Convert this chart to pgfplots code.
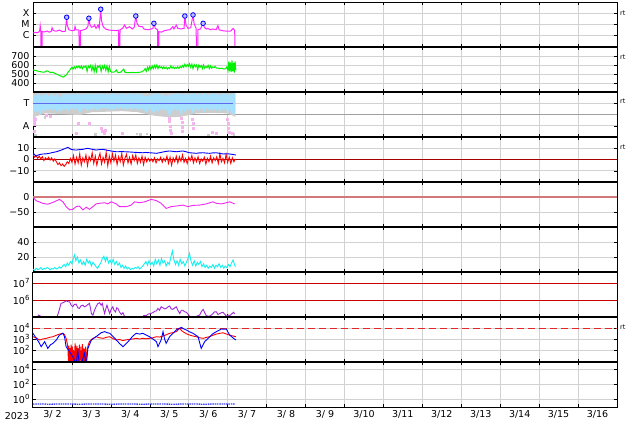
\documentclass[border=0pt]{standalone}
\usepackage{pgfplots}
\pgfplotsset{compat=1.18}
\usepackage{fontspec}
\setmainfont{DejaVu Sans}

\definecolor{xmag}{RGB}{255,40,255}
\definecolor{swgreen}{RGB}{0,240,0}
\definecolor{imfband}{RGB}{165,225,255}
\definecolor{imfgray}{RGB}{205,205,205}
\definecolor{tline}{RGB}{95,105,240}
\definecolor{apink}{RGB}{245,180,240}
\definecolor{zred}{RGB}{165,0,0}
\definecolor{dstmag}{RGB}{240,40,240}
\definecolor{dstzero}{RGB}{210,120,120}
\definecolor{kcyan}{RGB}{20,240,240}
\definecolor{epurple}{RGB}{160,40,215}
\definecolor{lred}{RGB}{200,0,0}
\definecolor{dred}{RGB}{225,40,40}

\newcommand\ex[1]{10\raisebox{0.85ex}{\fontsize{7}{7}\selectfont #1}}

\pgfplotsset{
  panel/.style={
    at={(33pt,-#1pt)}, anchor=north west,
    width=584pt, height=45pt, scale only axis,
    xmin=0, xmax=15,
    xtick={0.5,1.5,...,14.5}, xticklabels={},
    minor xtick={1,2,...,14},
    xminorgrids=true, xmajorgrids=false, ymajorgrids=true,
    major x tick style={draw=none},
    grid style={draw=gray!35, line width=0.6pt},
    minor grid style={draw=gray!35, line width=0.6pt},
    tick align=inside, major tick length=3pt, minor tick length=3pt,
    tick style={black, line width=0.5pt},
    yminorticks=false,
    axis line style={black, line width=1pt},
    tick label style={font=\fontsize{9.5}{11}\selectfont},
  }
}

\begin{document}
\begin{tikzpicture}
\useasboundingbox (0,0) rectangle (634pt,-424pt);

% X-ray flux
\begin{axis}[panel=2, ymode=log, ymin=8e-8, ymax=1e-3,
  ytick={1e-6,1e-5,1e-4}, yticklabels={C,M,X}]
\addplot[xmag, line width=1pt] coordinates {
(0.00,1.5e-6) (0.06,1.7e-6) (0.12,1.6e-6) (0.17,2.2e-6) (0.185,7e-6) (0.20,2.4e-6)
(0.205,1e-9) (0.23,1e-9) (0.235,2e-6) (0.30,1.9e-6) (0.36,2.3e-6) (0.42,1.8e-6)
(0.47,2.2e-6) (0.49,4.5e-6) (0.52,2.5e-6) (0.60,2.2e-6) (0.68,2.8e-6) (0.75,2.0e-6)
(0.83,2.2e-6) (0.865,4.1e-5) (0.88,8e-6) (0.92,3e-6) (1.00,2.4e-6) (1.06,2.6e-6)
(1.08,6e-6) (1.10,3e-6) (1.18,2.8e-6) (1.19,1e-9) (1.215,1e-9) (1.22,2.5e-6)
(1.28,2.8e-6) (1.36,3.5e-6) (1.41,6e-6) (1.435,3.3e-5) (1.46,9e-6) (1.50,5e-6)
(1.56,6e-6) (1.58,8e-6) (1.62,4e-6) (1.67,8e-6) (1.70,4e-6) (1.74,2.2e-4)
(1.76,2e-5) (1.80,6e-6) (1.86,3.5e-6) (1.95,2.8e-6) (2.05,2.6e-6) (2.14,2.5e-6)
(2.20,2.7e-6) (2.205,1e-9) (2.23,1e-9) (2.235,3e-6) (2.30,4e-6) (2.35,8e-6)
(2.40,4e-6) (2.48,5.7e-6) (2.55,3.5e-6) (2.60,5e-6) (2.64,5.3e-5) (2.67,1.2e-5)
(2.72,6e-6) (2.81,5.7e-6) (2.85,3.5e-6) (2.92,3e-6) (3.00,3.2e-6) (3.08,4e-6)
(3.105,1.15e-5) (3.14,4e-6) (3.20,3e-6) (3.205,1e-9) (3.23,1e-9) (3.235,2e-6)
(3.30,1.8e-6) (3.38,2.5e-6) (3.45,2.8e-6) (3.52,3e-6) (3.59,5.7e-6) (3.62,3.5e-6)
(3.68,8e-6) (3.72,4e-6) (3.80,3.5e-6) (3.88,4e-6) (3.90,5.3e-5) (3.93,8e-6)
(3.98,4e-6) (4.05,4.5e-6) (4.11,6.6e-5) (4.14,1e-5) (4.19,4e-6) (4.205,1e-9)
(4.23,1e-9) (4.235,3e-6) (4.30,3.5e-6) (4.37,1.15e-5) (4.40,5e-6) (4.45,3.5e-6)
(4.49,4e-6) (4.55,3e-6) (4.62,3.5e-6) (4.70,3e-6) (4.75,7e-6) (4.78,3e-6)
(4.88,2.4e-6) (4.98,2.2e-6) (5.08,2.3e-6) (5.14,4e-6) (5.18,2.5e-6) (5.20,1e-9)
};
\addplot[only marks, mark=*, mark size=2.3pt,
  mark options={draw=blue, fill=blue!25, line width=0.8pt}] coordinates {
(0.865,4.1e-5) (1.435,3.3e-5) (1.74,2.2e-4) (2.64,5.3e-5)
(3.105,1.15e-5) (3.90,5.3e-5) (4.11,6.6e-5) (4.37,1.15e-5)
};
\end{axis}

% solar wind speed
\begin{axis}[panel=47, ymin=300, ymax=800,
  ytick={400,500,600,700}, yticklabels={400,500,600,700}]
\addplot[swgreen, line width=1pt] coordinates {
(0.00,545) (0.05,540) (0.10,535) (0.15,530) (0.20,525) (0.25,520) (0.30,522)
(0.35,535) (0.40,528) (0.45,515) (0.50,520) (0.55,510) (0.60,500) (0.65,490)
(0.70,480) (0.75,470) (0.78,465) (0.82,480) (0.86,490) (0.90,520) (0.94,540)
(0.97,560) (1.00,575) (1.03,555) (1.06,580) (1.09,560) (1.12,585) (1.15,570)
(1.18,590) (1.21,565) (1.24,590) (1.27,560) (1.30,585) (1.33,575) (1.36,590)
(1.39,530) (1.42,590) (1.45,570) (1.48,595) (1.51,540) (1.54,590) (1.57,525)
(1.60,595) (1.63,530) (1.66,590) (1.69,575) (1.72,595) (1.75,530) (1.78,590)
(1.81,560) (1.84,595) (1.87,540) (1.90,590) (1.93,525) (1.96,585) (1.99,530)
(2.02,520) (2.06,520) (2.10,525) (2.14,545) (2.17,520) (2.20,515) (2.25,520)
(2.30,540) (2.33,555) (2.36,520) (2.40,515) (2.45,515) (2.50,515) (2.55,518)
(2.60,515) (2.65,516) (2.70,518) (2.75,520) (2.80,525) (2.85,540) (2.88,560)
(2.91,530) (2.94,575) (2.97,545) (3.00,585) (3.03,550) (3.06,590) (3.09,560)
(3.12,595) (3.15,565) (3.18,600) (3.21,560) (3.24,590) (3.27,570) (3.30,580)
(3.33,560) (3.36,580) (3.39,560) (3.42,575) (3.45,555) (3.48,570) (3.51,560)
(3.54,590) (3.57,565) (3.60,580) (3.63,560) (3.66,575) (3.69,565) (3.72,580)
(3.75,560) (3.78,585) (3.81,570) (3.84,595) (3.87,575) (3.90,610) (3.93,580)
(3.96,605) (3.99,585) (4.02,615) (4.05,575) (4.08,610) (4.11,560) (4.14,605)
(4.17,580) (4.20,600) (4.23,550) (4.26,600) (4.29,575) (4.32,595) (4.35,560)
(4.38,600) (4.41,565) (4.44,585) (4.47,570) (4.50,595) (4.53,560) (4.56,590)
(4.59,565) (4.62,580) (4.65,570) (4.68,585) (4.71,565) (4.75,565) (4.80,560)
(4.85,565) (4.90,555) (4.95,560) (4.98,580) (5.01,540) (5.03,640) (5.05,530)
(5.07,630) (5.09,520) (5.11,650) (5.13,530) (5.15,620) (5.17,515) (5.19,640)
(5.21,540)
};
\end{axis}

% IMF sector toward / away
\begin{axis}[panel=92, ymin=0, ymax=4, ytick={1,3}, yticklabels={A,T}]
\addplot[gray!75, line width=0.8pt] coordinates {(0,2) (15,2)};
\addplot[fill=imfgray, draw=none] coordinates {
(0.0,3.9) (0.5,3.9) (1.0,3.95) (1.5,3.95) (2.0,3.9) (2.5,3.95) (3.0,3.9)
(3.5,3.9) (4.0,3.9) (4.5,3.95) (5.0,3.9) (5.2,3.95)
(5.2,1.8) (5.0,2.1) (4.6,2.15) (4.2,2.1) (3.8,1.8) (3.5,1.75) (3.1,1.9)
(2.7,2.2) (2.3,2.3) (1.9,2.25) (1.5,2.2) (1.2,1.95) (0.7,2.05) (0.3,2.1) (0.0,1.75)
} -- cycle;
\addplot[fill=imfband, draw=none] coordinates {
(0.00,3.8) (0.05,3.6) (0.10,3.75) (0.15,3.85) (0.20,3.65) (0.25,3.8) (0.30,3.7)
(0.35,3.85) (0.40,3.6) (0.45,3.75) (0.50,3.8) (0.55,3.65) (0.60,3.85) (0.65,3.7)
(0.70,3.5) (0.75,3.75) (0.80,3.85) (0.85,3.7) (0.90,3.8) (0.95,3.9) (1.00,3.75)
(1.05,3.85) (1.10,3.7) (1.15,3.9) (1.20,3.8) (1.25,3.75) (1.30,3.85) (1.35,3.7)
(1.40,3.9) (1.45,3.8) (1.50,3.85) (1.55,3.7) (1.60,3.9) (1.65,3.75) (1.70,3.85)
(1.75,3.8) (1.80,3.9) (1.85,3.7) (1.90,3.85) (1.95,3.8) (2.00,3.75) (2.05,3.9)
(2.10,3.8) (2.15,3.85) (2.20,3.7) (2.25,3.9) (2.30,3.8) (2.35,3.85) (2.40,3.75)
(2.45,3.9) (2.50,3.8) (2.55,3.85) (2.60,3.7) (2.65,3.9) (2.70,3.8) (2.75,3.75)
(2.80,3.85) (2.85,3.6) (2.90,3.75) (2.95,3.55) (3.00,3.8) (3.05,3.7) (3.10,3.85)
(3.15,3.75) (3.20,3.9) (3.25,3.8) (3.30,3.7) (3.35,3.85) (3.40,3.5) (3.45,3.75)
(3.50,3.8) (3.55,3.7) (3.60,3.85) (3.65,3.75) (3.70,3.9) (3.75,3.8) (3.80,3.85)
(3.85,3.7) (3.90,3.9) (3.95,3.8) (4.00,3.75) (4.05,3.85) (4.10,3.8) (4.15,3.9)
(4.20,3.7) (4.25,3.85) (4.30,3.8) (4.35,3.75) (4.40,3.9) (4.45,3.8) (4.50,3.7)
(4.55,3.85) (4.60,3.8) (4.65,3.9) (4.70,3.75) (4.75,3.85) (4.80,3.7) (4.85,3.8)
(4.90,3.9) (4.95,3.75) (5.00,3.85) (5.05,3.7) (5.10,3.8) (5.15,3.9) (5.20,3.8)
(5.20,2.3) (5.15,1.9) (5.10,2.2) (5.05,2.5) (5.00,2.0) (4.95,2.6) (4.90,2.4)
(4.85,2.55) (4.80,2.2) (4.75,2.5) (4.70,2.35) (4.65,2.6) (4.60,2.3) (4.55,2.5)
(4.50,2.4) (4.45,2.6) (4.40,2.2) (4.35,2.5) (4.30,2.55) (4.25,2.3) (4.20,2.5)
(4.15,2.4) (4.10,2.1) (4.05,2.55) (4.00,2.4) (3.95,2.5) (3.90,2.2) (3.85,2.45)
(3.80,1.9) (3.75,2.5) (3.70,2.3) (3.65,2.55) (3.60,2.4) (3.55,2.2) (3.50,1.8)
(3.45,2.4) (3.40,2.5) (3.35,2.3) (3.30,2.55) (3.25,2.4) (3.20,2.2) (3.15,2.5)
(3.10,2.0) (3.05,2.4) (3.00,2.55) (2.95,2.3) (2.90,2.1) (2.85,2.5) (2.80,2.4)
(2.75,2.6) (2.70,2.35) (2.65,2.55) (2.60,2.6) (2.55,2.4) (2.50,2.5) (2.45,2.6)
(2.40,2.45) (2.35,2.6) (2.30,2.5) (2.25,2.65) (2.20,2.45) (2.15,2.6) (2.10,2.5)
(2.05,2.4) (2.00,2.55) (1.95,2.35) (1.90,2.6) (1.85,2.5) (1.80,2.65) (1.75,2.45)
(1.70,2.55) (1.65,2.3) (1.60,2.6) (1.55,2.5) (1.50,2.4) (1.45,2.55) (1.40,2.3)
(1.35,2.5) (1.30,2.6) (1.25,2.4) (1.20,2.1) (1.15,2.45) (1.10,2.55) (1.05,2.4)
(1.00,2.6) (0.95,2.45) (0.90,2.3) (0.85,2.55) (0.80,2.4) (0.75,2.5) (0.70,2.2)
(0.65,2.45) (0.60,2.3) (0.55,2.5) (0.50,2.35) (0.45,2.55) (0.40,2.4) (0.35,2.5)
(0.30,2.3) (0.25,2.45) (0.20,2.0) (0.15,2.35) (0.10,2.2) (0.05,2.4) (0.00,1.9)
} -- cycle;
\addplot[only marks, mark=square*, mark size=1pt, color=apink] coordinates {
(0.02,1.7) (0.02,1.4) (0.03,1.1) (0.04,0.5) (0.06,1.6) (0.35,1.9) (0.45,1.85)
(1.12,0.3) (1.15,1.25) (1.45,1.25) (1.75,0.8) (1.78,0.5) (1.82,0.35) (1.86,0.6)
(2.30,0.35) (3.50,1.7) (3.51,1.4) (3.52,1.0) (3.53,0.6) (3.54,0.3) (3.81,1.7)
(3.82,1.3) (3.83,0.9) (3.84,0.5) (4.10,1.6) (4.11,1.2) (4.12,0.8) (4.60,0.4)
(4.70,0.35) (5.00,1.6) (5.01,1.2) (5.02,0.8) (5.03,0.4) (5.12,0.3)
};
\addplot[only marks, mark=square*, mark size=0.8pt, color=imfgray] coordinates {
(0.05,0.2) (0.30,1.75) (1.60,0.25) (2.66,0.3) (2.75,0.25) (2.92,0.3) (4.50,0.2) (5.15,0.25)
};
\addplot[tline, line width=1.2pt] coordinates {(0,3) (5.13,3)};
\end{axis}

% IMF Bt / Bz
\begin{axis}[panel=137, ymin=-20, ymax=20,
  ytick={-10,0,10}, yticklabels={−10,0,10}]
\addplot[zred, line width=0.8pt] coordinates {(0,0) (15,0)};
\addplot[red, line width=0.9pt] coordinates {
(0.00,4.5) (0.04,2.0) (0.08,3.5) (0.12,1.0) (0.16,3.0) (0.20,0.5) (0.24,2.5)
(0.28,-1.0) (0.32,1.5) (0.36,0.0) (0.40,2.0) (0.44,-0.5) (0.48,1.5) (0.52,-1.5)
(0.56,0.5) (0.60,-2.0) (0.64,-4.5) (0.68,-3.0) (0.72,-5.5) (0.76,-4.0) (0.80,-6.0)
(0.84,-4.5) (0.88,-2.0) (0.92,-3.5) (0.96,1.0) (1.00,-2.5) (1.04,3.5) (1.08,-4.0)
(1.12,2.0) (1.16,-3.0) (1.20,5.0) (1.24,-5.0) (1.28,1.5) (1.32,-2.0) (1.36,4.0)
(1.40,-5.5) (1.44,2.5) (1.48,-1.0) (1.52,6.0) (1.56,-3.5) (1.60,3.0) (1.64,-5.0)
(1.68,1.0) (1.72,5.5) (1.76,-4.0) (1.80,2.0) (1.84,-2.5) (1.88,6.5) (1.92,-5.5)
(1.96,3.0) (2.00,-3.0) (2.04,5.0) (2.08,-1.5) (2.12,4.0) (2.16,-4.5) (2.20,2.5)
(2.24,-2.0) (2.28,5.5) (2.32,-5.0) (2.36,1.0) (2.40,4.5) (2.44,-3.0) (2.48,2.0)
(2.52,-4.0) (2.56,3.5) (2.60,-1.0) (2.64,4.0) (2.68,-3.5) (2.72,1.5) (2.76,-2.5)
(2.80,3.0) (2.84,-4.5) (2.88,2.0) (2.92,-2.0) (2.96,1.0) (3.00,-1.5) (3.04,0.5)
(3.08,-2.0) (3.12,1.5) (3.16,-3.0) (3.20,0.5) (3.24,-1.0) (3.28,2.0) (3.32,-2.5)
(3.36,1.0) (3.40,-1.5) (3.44,3.0) (3.48,-3.5) (3.52,2.0) (3.56,-5.0) (3.60,1.5)
(3.64,-2.0) (3.68,3.0) (3.72,-3.0) (3.76,2.5) (3.80,-1.5) (3.84,4.0) (3.88,-2.5)
(3.92,1.0) (3.96,-3.5) (4.00,2.0) (4.04,-1.0) (4.08,3.5) (4.12,-3.0) (4.16,1.5)
(4.20,-2.0) (4.24,2.5) (4.28,-3.5) (4.32,0.5) (4.36,-1.5) (4.40,2.0) (4.44,-4.0)
(4.48,1.0) (4.52,-2.0) (4.56,3.0) (4.60,-3.0) (4.64,1.5) (4.68,-1.0) (4.72,2.5)
(4.76,-3.5) (4.80,5.0) (4.84,-2.0) (4.88,1.0) (4.92,-3.0) (4.96,4.5) (5.00,-2.5)
(5.04,2.0) (5.08,-3.5) (5.12,1.5) (5.16,-2.0) (5.20,0.5)
};
\addplot[blue, line width=0.9pt] coordinates {
(0,5.5) (0.04,4.5) (0.08,3.1) (0.12,3.8) (0.17,4.4) (0.25,4.9) (0.33,5.0)
(0.42,5.5) (0.50,6.2) (0.60,6.9) (0.68,7.8) (0.77,9.0) (0.84,10.0) (0.90,10.8)
(0.94,9.8) (0.98,9.0) (1.04,8.6) (1.11,8.4) (1.20,8.8) (1.28,9.0) (1.35,9.6)
(1.41,9.9) (1.50,9.2) (1.62,8.4) (1.70,8.8) (1.80,9.0) (1.88,8.4) (1.97,7.8)
(2.05,7.3) (2.14,6.9) (2.30,7.0) (2.48,6.7) (2.65,6.3) (2.82,6.0) (2.90,6.3)
(2.99,6.0) (3.08,5.8) (3.17,5.5) (3.25,6.0) (3.34,6.7) (3.42,7.2) (3.51,7.6)
(3.60,7.2) (3.68,6.9) (3.77,7.3) (3.85,7.6) (3.94,6.8) (4.02,6.0) (4.10,5.8)
(4.19,5.5) (4.28,5.9) (4.37,6.0) (4.45,5.7) (4.54,5.5) (4.62,5.9) (4.71,6.0)
(4.80,5.4) (4.88,4.9) (4.97,5.1) (5.05,4.9) (5.13,4.5) (5.21,4.0)
};
\end{axis}

% Dst
\begin{axis}[panel=182, ymin=-100, ymax=50,
  ytick={-50,0}, yticklabels={−50,0}]
\addplot[dstzero, line width=2pt] coordinates {(0,0) (15,0)};
\addplot[dstmag, line width=0.9pt] coordinates {
(0.00,-1) (0.08,-12) (0.25,-21) (0.38,-24) (0.51,-18) (0.68,-8) (0.77,-16)
(0.85,-32) (0.94,-43) (1.02,-41) (1.11,-32) (1.19,-30) (1.28,-43) (1.37,-34)
(1.45,-41) (1.54,-32) (1.62,-23) (1.71,-21) (1.84,-19) (1.92,-23) (2.01,-16)
(2.14,-23) (2.22,-32) (2.40,-32) (2.52,-27) (2.61,-16) (2.74,-19) (2.87,-16)
(3.04,-8) (3.17,-12) (3.29,-21) (3.42,-38) (3.55,-32) (3.68,-30) (3.85,-27)
(3.98,-32) (4.11,-28) (4.28,-27) (4.45,-23) (4.62,-16) (4.71,-21) (4.84,-23)
(4.97,-19) (5.05,-16) (5.18,-23)
};
\end{axis}

% cyan index
\begin{axis}[panel=227, ymin=0, ymax=60,
  ytick={20,40}, yticklabels={20,40}]
\addplot[kcyan, line width=0.9pt] coordinates {
(0.00,4) (0.04,2) (0.08,5) (0.12,3) (0.16,4) (0.20,6) (0.24,3) (0.28,5) (0.32,4)
(0.36,6) (0.40,5) (0.44,3) (0.48,5) (0.52,4) (0.56,6) (0.60,4) (0.64,5) (0.68,7)
(0.72,5) (0.76,8) (0.80,10) (0.84,7) (0.88,12) (0.92,9) (0.96,14) (1.00,11)
(1.04,19) (1.07,23) (1.10,15) (1.14,20) (1.18,12) (1.22,16) (1.26,10) (1.30,14)
(1.34,9) (1.38,17) (1.42,12) (1.46,15) (1.50,8) (1.54,13) (1.58,10) (1.62,7)
(1.66,5) (1.70,9) (1.74,12) (1.78,18) (1.82,21) (1.86,14) (1.90,20) (1.94,12)
(1.98,16) (2.02,11) (2.06,17) (2.10,10) (2.14,14) (2.18,9) (2.22,12) (2.26,6)
(2.30,9) (2.34,5) (2.38,8) (2.42,4) (2.46,6) (2.50,3) (2.54,5) (2.58,4) (2.62,6)
(2.66,5) (2.70,7) (2.74,4) (2.78,6) (2.82,8) (2.86,11) (2.90,14) (2.94,9)
(2.98,15) (3.02,10) (3.06,13) (3.10,8) (3.14,17) (3.18,11) (3.22,16) (3.26,9)
(3.30,18) (3.34,12) (3.38,15) (3.42,8) (3.46,13) (3.50,10) (3.54,20) (3.58,28)
(3.62,16) (3.66,10) (3.70,15) (3.74,9) (3.78,17) (3.82,11) (3.86,14) (3.90,8)
(3.94,13) (3.98,18) (4.02,25) (4.06,14) (4.10,9) (4.14,15) (4.18,8) (4.22,13)
(4.26,10) (4.30,14) (4.34,7) (4.38,11) (4.42,6) (4.46,9) (4.50,5) (4.54,8)
(4.58,6) (4.62,10) (4.66,5) (4.70,9) (4.74,7) (4.78,11) (4.82,6) (4.86,9)
(4.90,5) (4.94,8) (4.98,6) (5.02,10) (5.06,7) (5.10,12) (5.14,16) (5.18,9) (5.20,7)
};
\end{axis}

% electron flux
\begin{axis}[panel=272, ymode=log, ymin=1e5, ymax=4.5e7,
  ytick={1e6,1e7}, yticklabels={\ex{6},\ex{7}}]
\addplot[lred, line width=0.8pt] coordinates {(0,1e6) (15,1e6)};
\addplot[lred, line width=0.8pt] coordinates {(0,1e7) (15,1e7)};
\addplot[epurple, line width=0.9pt] coordinates {
(0.10,8e4) (0.14,1.3e5) (0.18,1.2e5) (0.22,8e4) (0.60,8e4) (0.66,2e5) (0.72,6.3e5)
(0.80,7.5e5) (0.85,9e5) (0.90,8e5) (0.94,7.9e5) (0.98,5e5) (1.02,4e5) (1.06,5.5e5)
(1.11,5.7e5) (1.15,3.5e5) (1.19,3.2e5) (1.23,4.5e5) (1.28,5e5) (1.32,4e5)
(1.37,4.5e5) (1.41,5.5e5) (1.45,6.3e5) (1.48,3e5) (1.50,1.6e5) (1.54,1.3e5)
(1.58,2.5e5) (1.62,4e5) (1.66,6e5) (1.71,6.9e5) (1.75,5e5) (1.78,6.3e5) (1.81,3e5)
(1.84,1.6e5) (1.87,3e5) (1.90,5e5) (1.94,2.5e5) (1.97,1.6e5) (2.01,3e5) (2.05,4e5)
(2.08,2.5e5) (2.12,2e5) (2.15,3.5e5) (2.18,3.2e5) (2.22,2e5) (2.27,1.4e5)
(2.31,1.8e5) (2.35,1.1e5) (2.40,8e4) (2.80,8e4) (2.84,1.2e5) (2.91,1.2e5)
(2.96,1.5e5) (3.02,1.6e5) (3.08,1.8e5) (3.13,2.2e5) (3.17,2.3e5) (3.21,3.2e5)
(3.25,2.5e5) (3.29,4e5) (3.34,3.5e5) (3.38,3e5) (3.42,3.2e5) (3.47,4e5) (3.51,4.5e5)
(3.55,3e5) (3.59,2.8e5) (3.64,3.5e5) (3.68,4e5) (3.72,2.5e5) (3.77,1.6e5)
(3.81,2.5e5) (3.85,2.5e5) (3.90,2e5) (3.94,1.9e5) (3.98,1.5e5) (4.02,1.1e5)
(4.10,1.0e5) (4.20,1.1e5) (4.28,1.3e5) (4.33,2.2e5) (4.37,2.8e5) (4.41,1.8e5)
(4.45,1.2e5) (4.52,1.1e5) (4.58,1.3e5) (4.62,1.6e5) (4.66,2e5) (4.71,2e5)
(4.75,1.4e5) (4.80,1.6e5) (4.84,1.8e5) (4.88,1.9e5) (4.92,1.5e5) (4.97,1.1e5)
(5.01,1.3e5) (5.05,1.2e5) (5.10,1.5e5) (5.15,1.9e5) (5.18,1.5e5)
};
\end{axis}

% proton flux
\begin{axis}[panel=317, ymode=log, ymin=8.1, ymax=1e5,
  ytick={1e2,1e3,1e4}, yticklabels={\ex{2},\ex{3},\ex{4}}]
\addplot[dred, line width=1pt, dash pattern=on 7pt off 4pt] coordinates {(0,1e4) (15,1e4)};
\addplot[red, line width=0.9pt] coordinates {
(0,1620) (0.08,1300) (0.17,810) (0.25,1000) (0.34,1150) (0.42,1400) (0.51,1620)
(0.60,2200) (0.68,2800) (0.77,3300) (0.81,2500) (0.85,1150) (0.88,400) (0.90,100)
(0.91,5) (0.92,250) (0.93,5) (0.95,150) (0.96,5) (0.98,300) (0.99,5) (1.01,200)
(1.02,5) (1.04,100) (1.06,5) (1.08,400) (1.09,5) (1.11,250) (1.13,5) (1.15,150)
(1.17,5) (1.19,300) (1.21,5) (1.23,200) (1.25,5) (1.27,350) (1.29,5) (1.31,150)
(1.33,5) (1.35,200) (1.37,5) (1.39,100) (1.42,300) (1.45,575) (1.50,900)
(1.54,1150) (1.62,1620) (1.70,1300) (1.80,1150) (1.88,1400) (1.97,1620)
(2.05,1100) (2.14,810) (2.22,900) (2.31,710) (2.40,850) (2.48,930) (2.56,1000)
(2.65,1150) (2.74,1000) (2.82,1150) (2.90,1050) (2.99,1150) (3.08,1300)
(3.17,1620) (3.25,1500) (3.34,1860) (3.42,2400) (3.51,3300) (3.60,3800)
(3.68,4700) (3.73,7000) (3.77,9300) (3.81,6000) (3.85,4700) (3.94,3000)
(4.02,2300) (4.10,1900) (4.19,1620) (4.28,1300) (4.37,1150) (4.45,1400)
(4.54,1620) (4.62,2200) (4.71,2800) (4.80,3300) (4.88,3700) (4.97,2800)
(5.05,2300) (5.13,1900) (5.21,1620)
};
\addplot[blue, line width=0.9pt] coordinates {
(0.00,3300) (0.08,1150) (0.14,600) (0.21,200) (0.30,575) (0.38,140) (0.45,300)
(0.51,400) (0.60,810) (0.68,2300) (0.77,3300) (0.81,1620) (0.85,200) (0.94,70)
(1.02,25) (1.11,5) (1.15,100) (1.19,5) (1.24,5) (1.32,50) (1.37,5) (1.41,140)
(1.50,810) (1.62,1620) (1.75,3700) (1.84,4700) (1.90,3800) (1.97,3300) (2.10,1150)
(2.22,400) (2.31,200) (2.40,400) (2.48,810) (2.56,1800) (2.65,3300) (2.74,2800)
(2.82,3300) (2.99,1620) (3.08,1000) (3.17,575) (3.21,200) (3.29,810) (3.34,4700)
(3.38,1000) (3.42,400) (3.51,1620) (3.60,3500) (3.68,6600) (3.81,11500)
(3.88,8000) (3.94,6600) (4.02,4500) (4.11,3300) (4.24,1620) (4.32,140) (4.41,575)
(4.54,1620) (4.62,3000) (4.71,4700) (4.84,8100) (4.97,7600) (5.05,2300)
(5.15,1150) (5.21,810)
};
\end{axis}

% bottom panel
\begin{axis}[panel=362, ymode=log, ymin=0.085, ymax=8.5e4,
  ytick={1,1e2,1e4}, yticklabels={\ex{0},\ex{2},\ex{4}},
  xticklabels={3/ 2,3/ 3,3/ 4,3/ 5,3/ 6,3/ 7,3/ 8,3/ 9,3/10,3/11,3/12,3/13,3/14,3/15,3/16}]
\addplot[blue!75, line width=1.3pt, dash pattern=on 1.5pt off 0.8pt] coordinates {
(0.0,0.21) (0.2,0.22) (0.4,0.20) (0.6,0.21) (0.8,0.22) (1.0,0.21) (1.2,0.20)
(1.4,0.21) (1.6,0.22) (1.8,0.21) (2.0,0.20) (2.2,0.21) (2.4,0.22) (2.6,0.21)
(2.8,0.20) (3.0,0.21) (3.2,0.22) (3.4,0.21) (3.6,0.20) (3.8,0.21) (4.0,0.22)
(4.2,0.21) (4.4,0.20) (4.6,0.21) (4.8,0.22) (5.0,0.21) (5.2,0.21)
};
\end{axis}

\draw[line width=2.4pt] (33pt,-47pt) -- (617pt,-47pt);
\draw[line width=2.4pt] (33pt,-92pt) -- (617pt,-92pt);
\draw[line width=2.4pt] (33pt,-137pt) -- (617pt,-137pt);
\draw[line width=2.4pt] (33pt,-182pt) -- (617pt,-182pt);
\draw[line width=2.4pt] (33pt,-227pt) -- (617pt,-227pt);
\draw[line width=2.4pt] (33pt,-272pt) -- (617pt,-272pt);
\draw[line width=2.4pt] (33pt,-317pt) -- (617pt,-317pt);
\draw[line width=2.4pt] (33pt,-362pt) -- (617pt,-362pt);

\node[font=\fontsize{9.5}{11}\selectfont] at (17pt,-416pt) {2023};
\foreach \yy in {13,57,101,147,327}
  \node[anchor=west, inner sep=0pt, font=\fontsize{6.5}{7}\selectfont] at (620pt,-\yy pt) {rt};
\end{tikzpicture}
\end{document}
